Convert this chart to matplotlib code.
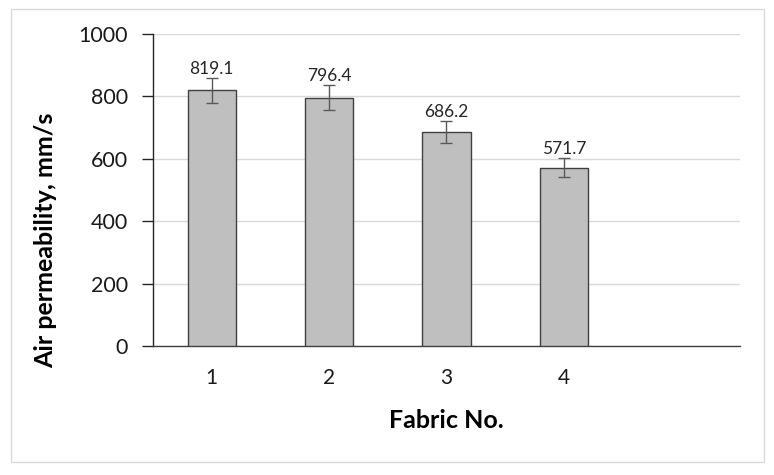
import numpy as np
import matplotlib
matplotlib.use("Agg")
import matplotlib.pyplot as plt
from matplotlib.patches import Rectangle

# data
fabrics = ["1", "2", "3", "4"]
air_perm = [819.1, 796.4, 686.2, 571.7]
errors = [40, 41, 34, 31]

plt.rcParams['font.family'] = ['Lato', 'DejaVu Sans']

fig = plt.figure(figsize=(7.74, 4.75), dpi=100)
ax = fig.add_axes([0.1977, 0.2716, 0.7583, 0.6568])

x = np.arange(len(fabrics))
ax.bar(x, air_perm, width=0.41, color='#bfbfbf', edgecolor='#404040',
       linewidth=1.0, zorder=3)
ax.errorbar(x, air_perm, yerr=errors, fmt='none', ecolor='#595959',
            elinewidth=1.0, capsize=4, capthick=1.0, zorder=4)

# value labels above the error bars
for xi, v, e in zip(x, air_perm, errors):
    ax.text(xi, v + e + 3, f'{v:.1f}', ha='center', va='bottom',
            fontsize=12.5, color='#262626')

# five slots on the x axis, last one empty
ax.set_xlim(-0.5, 4.5)
ax.set_xticks(x)
ax.set_xticklabels(fabrics)
ax.set_ylim(0, 1000)
ax.set_yticks(np.arange(0, 1001, 200))

ax.yaxis.grid(True, color='#d9d9d9', linewidth=1.0, zorder=0)
ax.set_axisbelow(True)
for s in ['top', 'right']:
    ax.spines[s].set_visible(False)
ax.spines['left'].set_color('#262626')
ax.spines['bottom'].set_color('#404040')
ax.spines['left'].set_linewidth(1.0)
ax.spines['bottom'].set_linewidth(1.0)

ax.tick_params(axis='x', length=0, pad=16, labelsize=15, labelcolor='#1a1a1a')
ax.tick_params(axis='y', length=8, width=1.0, color='#262626', pad=10,
               labelsize=15.5, labelcolor='#1a1a1a')

ax.set_xlabel('Fabric No.', fontsize=18, fontweight='bold', labelpad=15)
ax.set_ylabel('Air permeability, mm/s', fontsize=18, fontweight='bold')
# excel put the axis title a bit below the middle of the axis
ax.yaxis.set_label_coords(-0.163, 0.34)

# light frame around the whole chart area
fig.patches.append(Rectangle((11 / 774, 1 - 462 / 475), 753 / 774, 453 / 475,
                             transform=fig.transFigure, fill=False,
                             edgecolor='#d9d9d9', linewidth=1.0))

fig.savefig('out.png', dpi=100)
